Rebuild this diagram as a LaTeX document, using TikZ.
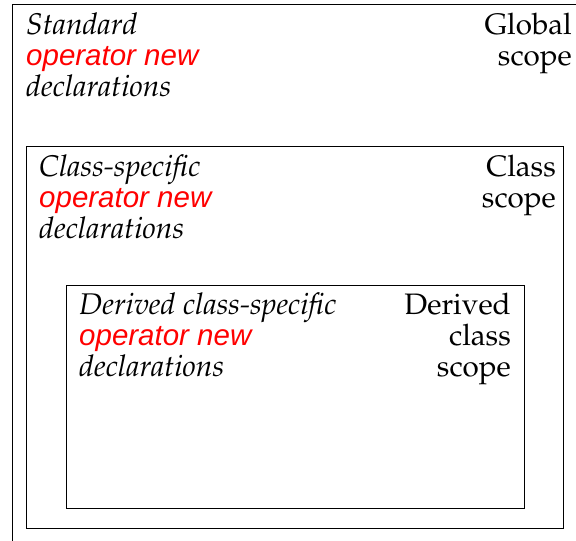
\documentclass[tikz,border=0pt]{standalone}
\usepackage[T1]{fontenc}
\usepackage{fontspec}
\newfontfamily\redsans{Liberation Sans}
\newcommand\palafont{\fontencoding{T1}\fontfamily{ppl}\selectfont}
\newcommand\opnew{{\redsans\itshape\color{red}\fontsize{29.5}{31}\selectfont operator new}}
\begin{document}
\begin{tikzpicture}[x=1pt,y=1pt,
  scopebox/.style={draw=black, line width=1pt, inner sep=0pt, anchor=south west},
  decltext/.style={inner sep=0pt, anchor=base west, align=left, font=\palafont\fontsize{29.9}{31}\selectfont\itshape},
  scopetext/.style={inner sep=0pt, anchor=base east, align=right, font=\palafont\fontsize{29.6}{31}\selectfont}]
\useasboundingbox (0,0) rectangle (576,541);
\clip (0,0) rectangle (576,541);
\node[scopebox, minimum width=600pt, minimum height=560pt, anchor=north west] (global) at (12,537) {};
\node[scopebox, minimum width=537pt, minimum height=382pt] (class) at (26,12) {};
\node[scopebox, minimum width=458pt, minimum height=223pt] (derived) at (66,32) {};
\node[decltext] (gdecl) at (26,444) {Standard\\\opnew\\declarations};
\node[scopetext] (gscope) at (572,475) {Global\\scope};
\node[decltext] (cdecl) at (39,302.5) {Class-specific\\\opnew\\declarations};
\node[scopetext] (cscope) at (556,333.5) {Class\\scope};
\node[decltext] (ddecl) at (79,164) {Derived class-specific\\\opnew\\declarations};
\node[scopetext] (dscope) at (511,164) {Derived\\class\\scope};
\end{tikzpicture}
\end{document}
